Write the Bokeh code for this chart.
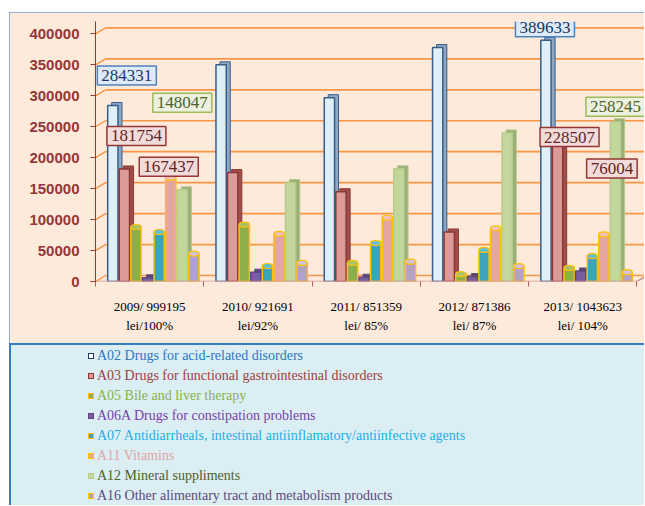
from bokeh.plotting import figure
from bokeh.models import Range1d, FixedTicker, NumeralTickFormatter, Label, Spacer, Div
from bokeh.layouts import column, row
from bokeh.embed import file_html
from bokeh.resources import INLINE

# ---------------- data ----------------
year_labels = ["2009/ 999195\nlei/100%", "2010/ 921691\nlei/92%", "2011/ 851359\nlei/ 85%",
               "2012/ 871386\nlei/ 87%", "2013/ 1043623\nlei/ 104%"]
series_names = [
    "A02 Drugs for acid-related disorders",
    "A03 Drugs for functional gastrointestinal  disorders",
    "A05 Bile and liver therapy",
    "A06A Drugs for constipation problems",
    "A07 Antidiarrheals, intestinal antiinflamatory/antiinfective agents",
    "A11 Vitamins",
    "A12 Mineral suppliments",
    "A16 Other alimentary tract and metabolism products",
]
a02 = [284331, 350000, 297000, 378000, 389633]
a03 = [181754, 176000, 145000, 80000, 228507]
a05 = [88000, 92000, 30000, 12000, 22000]
a06a = [6000, 15000, 7000, 8000, 17000]
a07 = [80000, 25000, 62000, 51000, 41000]
a11 = [167437, 77000, 103000, 86000, 76004]
a12 = [148047, 160000, 182000, 240000, 258245]
a16 = [45000, 30000, 32000, 25000, 15000]
y_ticks = [0, 50000, 100000, 150000, 200000, 250000, 300000, 350000, 400000]

series = [a02, a03, a05, a06a, a07, a11, a12, a16]

# ---------------- styles ----------------
PEACH = "#FDEADA"
LBLUE = "#DBEEF4"
fills = ["#DEEFF7", "#DC9B98", "#8CAF4A", "#7B5EA0", "#3BA3BA", "#E4A6A2", "#C3D69B", "#B3A2C7"]
tops = [None, None, "#A5C46A", None, "#5EC0D3", "#EFC0BC", None, "#CFC3DD"]
sides = ["#8FA6C2", "#9E4E4B", None, "#5B4679", None, None, "#98AD78", None]
lines = ["#385D8A", "#8C3836", "#FFC000", "#5F497A", "#FFC000", "#FFC000", "#B7CC8C", "#FFC000"]
legend_text = ["#2F77C2", "#A0403E", "#8DB04E", "#7A3FA8", "#1FAEE6", "#E0A5A3", "#4F6228", "#5F497A"]
cyl = [False, False, True, False, True, True, False, True]

W = 635
X_END = 5.07
FRAME_W = W - 86
FRAME_H = 260
Y_END = 420000
px_x = FRAME_W / X_END
px_y = FRAME_H / Y_END

p = figure(width=W, height=331, x_range=Range1d(0, X_END), y_range=Range1d(0, Y_END),
           output_backend="svg", toolbar_location=None,
           min_border_left=86, min_border_right=0, min_border_top=9, min_border_bottom=62,
           background_fill_color=PEACH, border_fill_color=PEACH, outline_line_color=None)
p.styles = {"outline": "1px solid #6A9FD8", "outline-offset": "-1px"}

p.xgrid.grid_line_color = None
p.ygrid.grid_line_color = None

# 3-D style back-wall grid lines derived from the tick values
bx = 10 / px_x
by = 6 / px_y
p.segment(x0=[bx] * len(y_ticks), y0=[t + by for t in y_ticks], x1=[X_END] * len(y_ticks),
          y1=[t + by for t in y_ticks], line_color="#F79646", line_width=1.7)
p.segment(x0=[0] * len(y_ticks), y0=y_ticks, x1=[bx] * len(y_ticks),
          y1=[t + by for t in y_ticks], line_color="#F79646", line_width=1.4)

p.yaxis.ticker = FixedTicker(ticks=y_ticks)
p.yaxis.formatter = NumeralTickFormatter(format="0")
p.yaxis.major_label_text_font = "Arial"
p.yaxis.major_label_text_font_style = "bold"
p.yaxis.major_label_text_font_size = "15px"
p.yaxis.major_label_text_color = "#953735"
p.yaxis.axis_line_color = "#953735"
p.yaxis.major_tick_line_color = "#953735"
p.yaxis.major_tick_out = 5
p.yaxis.major_tick_in = 0
p.yaxis.minor_tick_line_color = None
p.yaxis.major_label_standoff = 11

centers = [i + 0.5 for i in range(5)]
p.xaxis.ticker = FixedTicker(ticks=centers, minor_ticks=[0, 1, 2, 3, 4, 5])
p.xaxis.major_label_overrides = {c: lab for c, lab in zip(centers, year_labels)}
p.xaxis.major_label_text_font = "Times New Roman"
p.xaxis.major_label_text_font_size = "13px"
p.xaxis.major_label_text_color = "#000000"
p.xaxis.major_label_text_line_height = 1.3
p.xaxis.major_tick_out = 0
p.xaxis.major_tick_in = 0
p.xaxis.minor_tick_out = 5
p.xaxis.minor_tick_in = 0
p.xaxis.minor_tick_line_color = "#B05A58"
p.xaxis.axis_line_color = None
p.xaxis.major_label_standoff = 12

first, step, bw = 0.16, 0.107, 0.095
dx = 4 / px_x
dy = 3 / px_y
bar_x = []
for k, vals in enumerate(series):
    xs = [i + first + k * step for i in range(5)]
    bar_x.append(xs)
    if not cyl[k]:
        p.vbar(x=[x + dx for x in xs], top=[v + dy for v in vals], bottom=dy, width=bw,
               fill_color=sides[k], line_color=lines[k], line_width=1)
    p.vbar(x=xs, top=vals, bottom=0, width=bw, fill_color=fills[k],
           line_color=lines[k], line_width=1.5)
    if cyl[k]:
        p.ellipse(x=xs, y=vals, width=bw, height=5, height_units="screen",
                  fill_color=tops[k], line_color="#FFC000", line_width=1.2)

# floor line (front edge) and right end
p.segment(x0=[0], y0=[0], x1=[5], y1=[0], line_color="#C99391", line_width=1.5)
p.segment(x0=[5], y0=[0], x1=[5 + bx], y1=[by], line_color="#C99391", line_width=1.5)

# value call-outs: (series index, year index, x offset px, y offset px)
callouts = [(0, 0, 14, 30), (6, 0, 0, 87), (1, 0, 12, 33), (5, 0, -2, 11),
            (0, 4, -1, 13), (6, 4, 0, 15), (1, 4, 12, 3), (5, 4, 8, 66)]
box_style = {
    0: ("#DCEBF7", "#4F81BD", "#1F3864"),
    1: ("#F2DCDB", "#953735", "#632523"),
    5: ("#F2DCDB", "#953735", "#632523"),
    6: ("#EBF1DE", "#9BBB59", "#4F6228"),
}
for k, i, ox, oy in callouts:
    bg, bd, tc = box_style[k]
    p.add_layout(Label(x=bar_x[k][i], y=series[k][i], x_offset=ox, y_offset=oy,
                       text=str(series[k][i]), text_align="center", text_baseline="middle",
                       text_font="Liberation Serif", text_font_size="17px", text_color=tc,
                       background_fill_color=bg, border_line_color=bd, border_line_width=1.5,
                       padding=4, level="overlay"))

# ---------------- legend panel (HTML) ----------------
LH = 162
legend_fill = list(fills)
legend_fill[0] = "#FFFFFF"
legend_border = ["#1F3864"] + lines[1:]
rows_html = []
for k, name in enumerate(series_names):
    top = 11 + 20 * k - 10
    rows_html.append(
        f'<div style="position:absolute;left:77px;top:{top}px;height:20px;line-height:20px;'
        f'white-space:nowrap;font-family:\'Times New Roman\',\'Liberation Serif\',serif;'
        f'font-size:14px;color:{legend_text[k]};">'
        f'<span style="display:inline-block;width:6px;height:6px;border:1.5px solid {legend_border[k]};'
        f'background:{legend_fill[k]};vertical-align:middle;margin-right:3px;position:relative;top:-1px;"></span>'
        f'{name}</div>')
legend_html = (f'<div style="position:relative;width:{W}px;height:{LH}px;background:{LBLUE};'
               f'box-sizing:border-box;border-left:2px solid #3A7CC4;border-top:2px solid #3A7CC4;'
               f'overflow:hidden;">' + "".join(rows_html) + '</div>')
lg = Div(text=legend_html, width=W, height=LH, margin=0)

layout = row(Spacer(width=9, height=505),
             column(Spacer(width=W, height=12), p, lg, spacing=0), spacing=0)
open("out.html", "w").write(file_html(layout, INLINE))
